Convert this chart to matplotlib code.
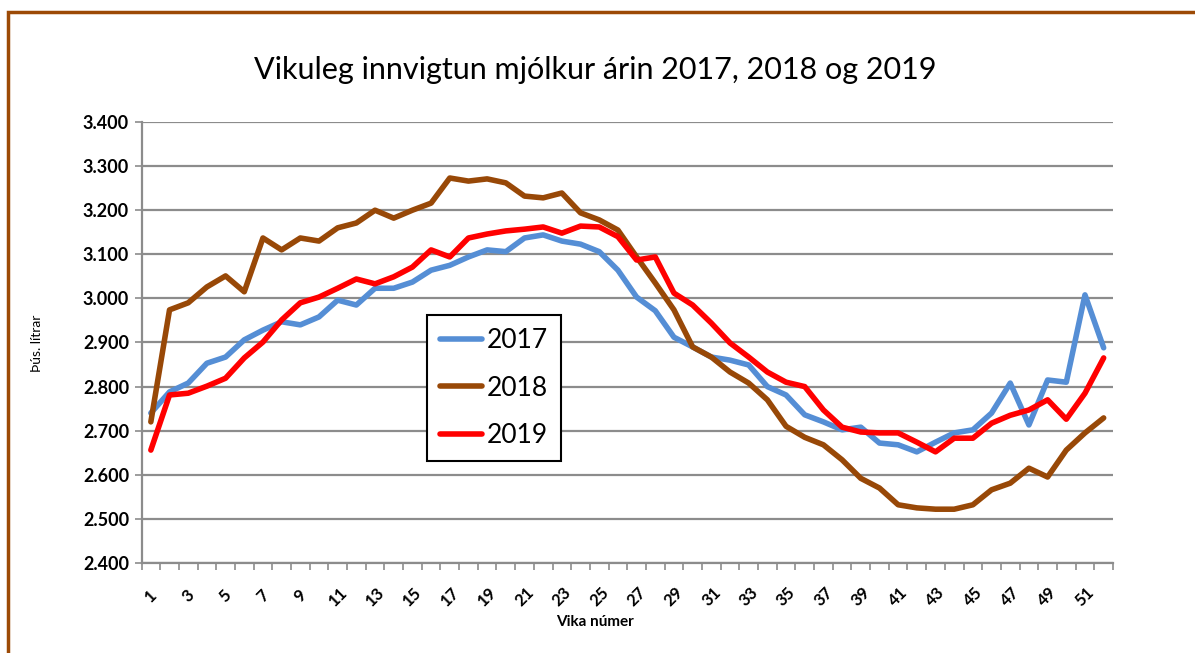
import matplotlib
matplotlib.use("Agg")
import matplotlib.pyplot as plt
from matplotlib.ticker import FuncFormatter, MultipleLocator, FixedLocator
from matplotlib.patches import Rectangle

# Vikuleg innvigtun (þús. lítrar), vikur 1-52
weeks = list(range(1, 53))
y2017 = [2740, 2788, 2808, 2853, 2867, 2906, 2928, 2947, 2940, 2958,
         2996, 2985, 3023, 3023, 3037, 3064, 3075, 3094, 3110, 3106,
         3137, 3144, 3130, 3123, 3106, 3064, 3003, 2972, 2912, 2890,
         2867, 2860, 2849, 2800, 2781, 2736, 2720, 2702, 2708, 2672,
         2668, 2652, 2674, 2695, 2702, 2740, 2808, 2713, 2815, 2810,
         3008, 2888]
y2018 = [2720, 2974, 2990, 3026, 3051, 3015, 3137, 3110, 3137, 3130,
         3160, 3171, 3200, 3182, 3200, 3216, 3273, 3266, 3271, 3262,
         3232, 3228, 3239, 3194, 3178, 3155, 3094, 3035, 2974, 2890,
         2867, 2833, 2808, 2770, 2710, 2685, 2668, 2634, 2592, 2570,
         2532, 2525, 2522, 2522, 2532, 2566, 2581, 2615, 2595, 2656,
         2695, 2729]
y2019 = [2656, 2781, 2785, 2801, 2819, 2865, 2901, 2951, 2990, 3003,
         3023, 3044, 3033, 3049, 3071, 3110, 3094, 3137, 3146, 3153,
         3157, 3162, 3148, 3164, 3162, 3140, 3087, 3094, 3012, 2985,
         2944, 2899, 2867, 2833, 2810, 2800, 2747, 2708, 2697, 2695,
         2695, 2674, 2652, 2683, 2683, 2717, 2735, 2747, 2770, 2726,
         2785, 2865]
series = ["2017", "2018", "2019"]
colors = ["#558ED5", "#984807", "#FF0000"]

plt.rcParams["font.family"] = ["Lato", "DejaVu Sans"]

fig = plt.figure(figsize=(11.95, 6.53), dpi=100)
ax = fig.add_axes([141.5 / 1195, 1 - 563 / 653, (1113 - 141.5) / 1195, (563 - 122) / 653])

for vals, name, c in zip([y2017, y2018, y2019], series, colors):
    ax.plot(weeks, vals, color=c, lw=4, label=name, solid_capstyle="round",
            solid_joinstyle="round", zorder=3)

ax.set_xlim(0.5, 52.5)
ax.set_ylim(2400, 3400)
ax.yaxis.set_major_locator(MultipleLocator(100))
ax.yaxis.set_major_formatter(FuncFormatter(lambda v, p: f"{v/1000:.3f}"))
ax.grid(axis="y", color="#8C8C8C", lw=1.6, zorder=1)
ax.set_axisbelow(True)

# category axis: ticks at boundaries, labels on odd weeks
ax.xaxis.set_major_locator(FixedLocator([w for w in weeks if w % 2 == 1]))
ax.xaxis.set_minor_locator(FixedLocator([w + 0.5 for w in range(0, 53)]))
ax.tick_params(axis="x", which="major", length=0, pad=24)
ax.tick_params(axis="x", which="minor", length=5, width=1.2, color="#8C8C8C")
ax.tick_params(axis="y", length=5, width=1.2, color="#8C8C8C", pad=4)
for lbl in ax.get_xticklabels():
    lbl.set_rotation(45)
    lbl.set_fontweight("bold")
    lbl.set_fontsize(12)
    lbl.set_ha("center")
    lbl.set_va("center")
for lbl in ax.get_yticklabels():
    lbl.set_fontweight("bold")
    lbl.set_fontsize(13)

for s in ["top", "right"]:
    ax.spines[s].set_visible(False)
for s in ["left", "bottom"]:
    ax.spines[s].set_color("#8C8C8C")
    ax.spines[s].set_linewidth(1.6)

leg = ax.legend(loc="upper left", bbox_to_anchor=((427 - 141.5) / (1113 - 141.5), (563 - 315) / 441),
                borderaxespad=0, frameon=True, fancybox=False, fontsize=19,
                handlelength=1.6, handletextpad=0.15, labelspacing=0.85,
                borderpad=0.5, edgecolor="black", framealpha=1)
leg.get_frame().set_linewidth(1.5)
for ln in leg.get_lines():
    ln.set_linewidth(4)

fig.text(595 / 1195, 1 - 70 / 653, "Vikuleg innvigtun mjólkur árin 2017, 2018 og 2019",
         ha="center", va="center", fontsize=22)
fig.text(37 / 1195, 1 - 343 / 653, "Þús. lítrar", rotation=90, ha="center", va="center",
         fontsize=10)
fig.text(595 / 1195, 1 - 622 / 653, "Vika númer", ha="center", va="center",
         fontsize=11, fontweight="bold")

# chart-area border
fig.patches.append(Rectangle((8 / 1195, -0.1), 1.2, 1 - 12 / 653 + 0.1, transform=fig.transFigure,
                             fill=False, edgecolor="#9C4A06", lw=2.5))

fig.savefig("out.png", dpi=100)
